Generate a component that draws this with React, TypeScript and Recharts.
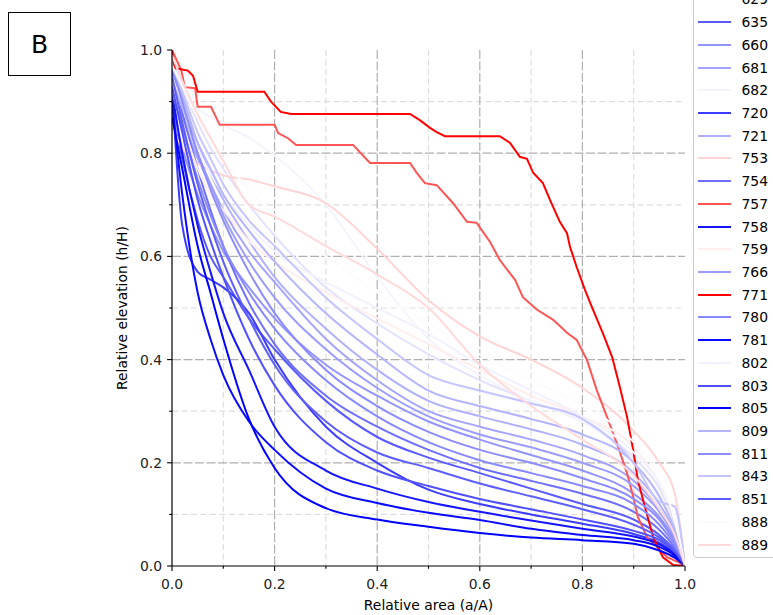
import React from 'react';
import { LineChart, Line, XAxis, YAxis, CartesianGrid, Legend, Label } from 'recharts';

const FONT = '"DejaVu Sans", "Liberation Sans", sans-serif';

// Basin ids (legend order) and their colours
const IDS = ['629', '635', '660', '681', '682', '720', '721', '753', '754', '757', '758', '759', '766', '771', '780', '781', '802', '803', '805', '809', '811', '843', '851', '888', '889'];
const COLORS = ['#e2e2ff', '#5a5aff', '#9494ff', '#a4a4ff', '#f4f4ff', '#3c3cff', '#b0b0ff', '#ffd4d4', '#6e6eff', '#ff5454', '#1414ff', '#ffeeee', '#9c9cff', '#ff0000', '#8888ff', '#0a0aff', '#f2f2ff', '#5050ff', '#0000ff', '#b4b4ff', '#8c8cff', '#c4c4ff', '#5e5eff', '#fcfcff', '#ffdada'];

// Shared relative-area sample points (a/A)
const AREA = [0, 0.02, 0.05, 0.075, 0.1, 0.15, 0.2, 0.3, 0.4, 0.5, 0.6, 0.7, 0.8, 0.9, 0.95, 0.98, 1];

// Relative elevation (h/H) per basin, on AREA
const H_629 = [0.98, 0.93, 0.86, 0.81, 0.77, 0.70, 0.64, 0.54, 0.47, 0.41, 0.36, 0.32, 0.28, 0.21, 0.15, 0.08, 0];
const H_635 = [0.90, 0.79, 0.67, 0.60, 0.56, 0.48, 0.42, 0.32, 0.25, 0.21, 0.18, 0.15, 0.12, 0.09, 0.06, 0.03, 0];
const H_660 = [0.88, 0.81, 0.72, 0.66, 0.61, 0.54, 0.48, 0.39, 0.33, 0.28, 0.245, 0.215, 0.185, 0.14, 0.095, 0.05, 0];
const H_681 = [0.93, 0.87, 0.79, 0.74, 0.69, 0.61, 0.55, 0.44, 0.36, 0.30, 0.27, 0.245, 0.215, 0.165, 0.11, 0.06, 0];
const H_682 = [1.0, 0.90, 0.885, 0.87, 0.855, 0.83, 0.795, 0.70, 0.56, 0.44, 0.37, 0.32, 0.28, 0.2, 0.13, 0.07, 0];
const H_720 = [0.93, 0.66, 0.57, 0.555, 0.54, 0.49, 0.40, 0.27, 0.2, 0.148, 0.12, 0.10, 0.082, 0.062, 0.045, 0.025, 0];
const H_721 = [0.96, 0.91, 0.82, 0.76, 0.71, 0.63, 0.56, 0.46, 0.38, 0.32, 0.29, 0.265, 0.235, 0.18, 0.12, 0.065, 0];
const H_753 = [0.85, 0.81, 0.78, 0.767, 0.757, 0.749, 0.736, 0.703, 0.615, 0.515, 0.445, 0.40, 0.345, 0.262, 0.2, 0.14, 0];
const H_754 = [0.96, 0.88, 0.77, 0.69, 0.62, 0.51, 0.43, 0.33, 0.27, 0.225, 0.19, 0.165, 0.14, 0.105, 0.07, 0.035, 0];
const H_758 = [0.92, 0.80, 0.66, 0.57, 0.49, 0.38, 0.27, 0.185, 0.15, 0.124, 0.105, 0.088, 0.072, 0.057, 0.042, 0.022, 0];
const H_759 = [0.93, 0.86, 0.77, 0.72, 0.69, 0.63, 0.59, 0.53, 0.48, 0.43, 0.38, 0.33, 0.29, 0.23, 0.16, 0.09, 0];
const H_766 = [0.95, 0.89, 0.80, 0.74, 0.68, 0.59, 0.52, 0.42, 0.345, 0.29, 0.255, 0.23, 0.2, 0.155, 0.105, 0.055, 0];
const H_780 = [0.92, 0.85, 0.75, 0.68, 0.62, 0.53, 0.46, 0.36, 0.29, 0.24, 0.205, 0.18, 0.155, 0.12, 0.08, 0.04, 0];
const H_781 = [0.9, 0.72, 0.53, 0.44, 0.37, 0.28, 0.225, 0.15, 0.122, 0.103, 0.089, 0.072, 0.06, 0.05, 0.037, 0.02, 0];
const H_802 = [0.95, 0.89, 0.81, 0.76, 0.72, 0.66, 0.61, 0.55, 0.50, 0.45, 0.39, 0.34, 0.29, 0.22, 0.16, 0.09, 0];
const H_803 = [0.93, 0.84, 0.71, 0.63, 0.56, 0.44, 0.35, 0.24, 0.185, 0.155, 0.13, 0.11, 0.09, 0.068, 0.05, 0.028, 0];
const H_805 = [0.87, 0.77, 0.62, 0.53, 0.44, 0.285, 0.19, 0.112, 0.09, 0.076, 0.064, 0.055, 0.05, 0.043, 0.03, 0.016, 0];
const H_809 = [0.94, 0.89, 0.82, 0.77, 0.72, 0.65, 0.59, 0.49, 0.41, 0.34, 0.31, 0.285, 0.255, 0.20, 0.135, 0.07, 0];
const H_811 = [0.97, 0.90, 0.80, 0.73, 0.67, 0.57, 0.49, 0.38, 0.31, 0.26, 0.225, 0.2, 0.17, 0.13, 0.09, 0.045, 0];
const H_843 = [0.97, 0.92, 0.84, 0.79, 0.74, 0.67, 0.62, 0.52, 0.44, 0.37, 0.34, 0.315, 0.285, 0.2, 0.125, 0.115, 0];
const H_851 = [0.95, 0.86, 0.74, 0.66, 0.59, 0.48, 0.39, 0.28, 0.22, 0.19, 0.16, 0.135, 0.11, 0.08, 0.055, 0.03, 0];
const H_888 = [0.97, 0.93, 0.87, 0.83, 0.79, 0.73, 0.68, 0.60, 0.53, 0.47, 0.41, 0.36, 0.31, 0.24, 0.17, 0.09, 0];
const H_889 = [0.99, 0.94, 0.875, 0.83, 0.785, 0.70, 0.677, 0.62, 0.565, 0.50, 0.39, 0.31, 0.245, 0.175, 0.11, 0.06, 0];

// Stepped basins have their own area samples
const AREA_757 = [0, 0.018, 0.025, 0.045, 0.05, 0.076, 0.093, 0.2, 0.207, 0.226, 0.242, 0.353, 0.366, 0.386, 0.464, 0.477, 0.493, 0.516, 0.548, 0.575, 0.594, 0.62, 0.639, 0.669, 0.684, 0.711, 0.743, 0.77, 0.789, 0.809, 0.828, 0.848, 0.867, 0.887, 0.899, 0.908, 0.926, 0.945, 0.965, 0.99, 1];
const H_757 = [1, 0.961, 0.928, 0.926, 0.89, 0.89, 0.855, 0.855, 0.839, 0.829, 0.816, 0.816, 0.802, 0.781, 0.781, 0.762, 0.742, 0.738, 0.703, 0.667, 0.665, 0.628, 0.593, 0.554, 0.521, 0.497, 0.477, 0.452, 0.438, 0.399, 0.341, 0.289, 0.238, 0.18, 0.134, 0.095, 0.056, 0.037, 0.017, 0.006, 0];
const AREA_771 = [0, 0.005, 0.031, 0.041, 0.05, 0.18, 0.193, 0.212, 0.232, 0.464, 0.483, 0.503, 0.516, 0.532, 0.639, 0.659, 0.678, 0.692, 0.704, 0.723, 0.737, 0.756, 0.77, 0.776, 0.789, 0.805, 0.821, 0.84, 0.858, 0.873, 0.887, 0.899, 0.908, 0.922, 0.938, 0.957, 0.977, 1];
const H_771 = [1, 0.965, 0.96, 0.95, 0.919, 0.919, 0.9, 0.88, 0.876, 0.876, 0.864, 0.849, 0.841, 0.833, 0.833, 0.82, 0.793, 0.789, 0.762, 0.742, 0.709, 0.667, 0.645, 0.618, 0.579, 0.535, 0.496, 0.451, 0.405, 0.347, 0.289, 0.225, 0.167, 0.114, 0.056, 0.017, 0.002, 0];

const TICKS = [0, 0.1, 0.2, 0.3, 0.4, 0.5, 0.6, 0.7, 0.8, 0.9, 1];
const MINOR = [0.1, 0.3, 0.5, 0.7, 0.9];
const MAJOR = [0.2, 0.4, 0.6, 0.8];

const ELEV: Record<string, number[]> = {
  '629': H_629, '635': H_635, '660': H_660, '681': H_681, '682': H_682, '720': H_720, '721': H_721,
  '753': H_753, '754': H_754, '757': H_757, '758': H_758, '759': H_759, '766': H_766, '771': H_771,
  '780': H_780, '781': H_781, '802': H_802, '803': H_803, '805': H_805, '809': H_809, '811': H_811,
  '843': H_843, '851': H_851, '888': H_888, '889': H_889,
};
const OWN_AREA: Record<string, number[]> = { '757': AREA_757, '771': AREA_771 };

const SERIES = IDS.map((id, i) => {
  const xs = OWN_AREA[id] || AREA;
  const ys = ELEV[id];
  return { id, color: COLORS[i], stepped: !!OWN_AREA[id], data: xs.map((x, j) => ({ x, y: ys[j] })) };
});

const isMajor = (v: number) => Math.round(v * 10) % 2 === 0;

const XTick = (props: any) => {
  const { x, y, payload } = props;
  const v = payload.value;
  const major = isMajor(v);
  return (
    <g>
      <line x1={x} y1={y} x2={x} y2={y + (major ? 4.9 : 2.8)} stroke="#000" strokeWidth={1.1} />
      {major && (
        <text x={x} y={y + 23} textAnchor="middle" fontSize={13.9} fontFamily={FONT} fill="#222">
          {v.toFixed(1)}
        </text>
      )}
    </g>
  );
};

const YTick = (props: any) => {
  const { x, y, payload } = props;
  const v = payload.value;
  const major = isMajor(v);
  return (
    <g>
      <line x1={x - (major ? 4.9 : 2.8)} y1={y} x2={x} y2={y} stroke="#000" strokeWidth={1.1} />
      {major && (
        <text x={x - 10} y={y + 5} textAnchor="end" fontSize={13.9} fontFamily={FONT} fill="#222">
          {v.toFixed(1)}
        </text>
      )}
    </g>
  );
};

const vGen = (vals: number[]) => ({ xAxis, offset }: any) =>
  vals.map((v) => (xAxis && typeof xAxis.scale === 'function' ? xAxis.scale(v) : offset.left + v * offset.width));
const hGen = (vals: number[]) => ({ yAxis, offset }: any) =>
  vals.map((v) => (yAxis && typeof yAxis.scale === 'function' ? yAxis.scale(v) : offset.top + (1 - v) * offset.height));

const LegendBox = () => (
  <div
    style={{
      border: '1px solid #cccccc',
      borderRadius: 4,
      background: '#fff',
      padding: '1px 0',
      fontFamily: FONT,
      fontSize: 13.9,
      color: '#000',
      boxSizing: 'border-box',
    }}
  >
    {SERIES.map((s) => (
      <div key={s.id} style={{ height: 22.72, display: 'flex', alignItems: 'center' }}>
        <span style={{ display: 'inline-block', width: 33, height: 2, background: s.color, marginLeft: 3.5, marginRight: 11 }} />
        <span>{s.id}</span>
      </div>
    ))}
  </div>
);

export default function App() {
  return (
    <div style={{ position: 'absolute', left: 0, top: 0, width: 773, height: 615, overflow: 'hidden', background: '#fff' }}>
      <div
        style={{
          position: 'absolute',
          left: 8,
          top: 12,
          width: 63,
          height: 64,
          border: '1.5px solid #000',
          boxSizing: 'border-box',
          display: 'flex',
          alignItems: 'center',
          justifyContent: 'center',
          fontFamily: FONT,
          fontSize: 25,
          color: '#000',
          zIndex: 2,
        }}
      >
        B
      </div>
      <LineChart width={773} height={615} margin={{ top: 50, right: 88, bottom: 19, left: 72 }}>
        <CartesianGrid
          stroke="#dedede"
          strokeWidth={1.2}
          strokeDasharray="6 3.5"
          verticalCoordinatesGenerator={vGen(MINOR)}
          horizontalCoordinatesGenerator={hGen(MINOR)}
        />
        <CartesianGrid
          stroke="#b0b0b0"
          strokeWidth={1.2}
          strokeDasharray="9 2.5"
          verticalCoordinatesGenerator={vGen(MAJOR)}
          horizontalCoordinatesGenerator={hGen(MAJOR)}
        />
        <XAxis
          type="number"
          dataKey="x"
          domain={[0, 1]}
          ticks={TICKS}
          interval={0}
          allowDataOverflow
          tick={<XTick />}
          tickLine={false}
          tickSize={0}
          tickMargin={0}
          height={30}
          axisLine={{ stroke: '#000', strokeWidth: 1.2 }}
        >
          <Label value="Relative area (a/A)" position="bottom" offset={4} fontSize={13.9} fontFamily={FONT} fill="#000" />
        </XAxis>
        <XAxis
          xAxisId="top"
          orientation="top"
          type="number"
          domain={[0, 1]}
          height={0}
          tick={false}
          tickLine={false}
          axisLine={{ stroke: '#000', strokeWidth: 1.2 }}
        >
          <Label value="Hypsometric curves" position="top" offset={10} fontSize={16.7} fontFamily={FONT} fill="#000" />
        </XAxis>
        <YAxis
          type="number"
          domain={[0, 1]}
          ticks={TICKS}
          interval={0}
          allowDataOverflow
          tick={<YTick />}
          tickLine={false}
          tickSize={0}
          tickMargin={0}
          width={100}
          axisLine={{ stroke: '#000', strokeWidth: 1.2 }}
        >
          <Label value="Relative elevation (h/H)" position="center" angle={-90} fontSize={13.9} fontFamily={FONT} fill="#000" />
        </YAxis>
        <YAxis
          yAxisId="right"
          orientation="right"
          type="number"
          domain={[0, 1]}
          width={0}
          tick={false}
          tickLine={false}
          axisLine={{ stroke: '#000', strokeWidth: 1.2 }}
        />
        {SERIES.map((s) => (
          <Line
            key={s.id}
            data={s.data}
            dataKey="y"
            name={s.id}
            type={s.stepped ? 'linear' : 'monotone'}
            stroke={s.color}
            strokeWidth={2}
            dot={false}
            activeDot={false}
            isAnimationActive={false}
          />
        ))}
        <Legend
          layout="vertical"
          align="center"
          verticalAlign="middle"
          content={() => <LegendBox />}
          wrapperStyle={{ left: 693, top: -14, width: 100 }}
        />
      </LineChart>
    </div>
  );
}
